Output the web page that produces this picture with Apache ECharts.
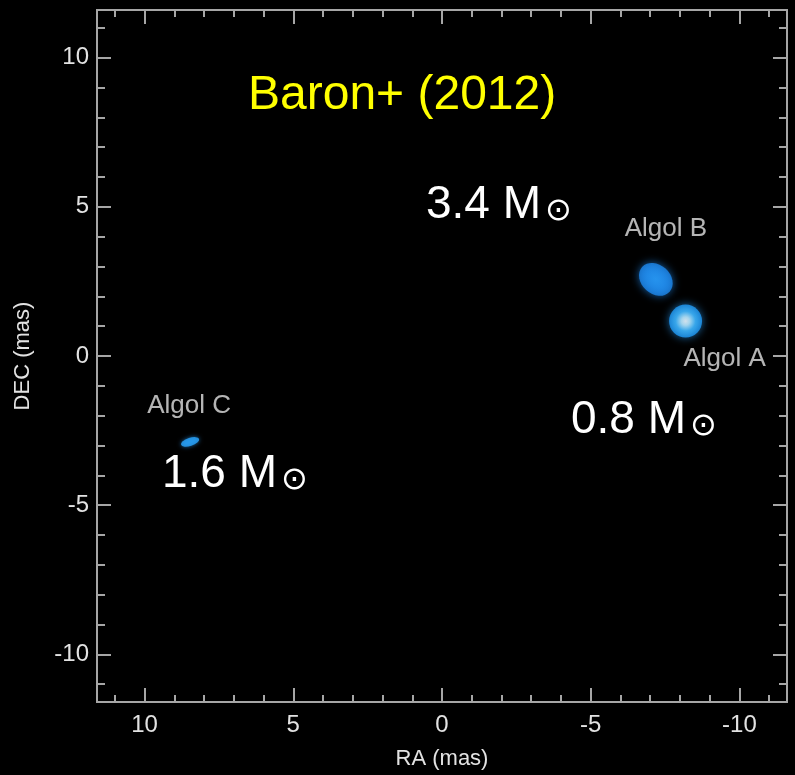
<!DOCTYPE html>
<html><head><meta charset="utf-8">
<script src="https://cdn.jsdelivr.net/npm/echarts@6/dist/echarts.min.js"></script>
<style>html,body{margin:0;padding:0;background:#000}#c{width:795px;height:775px}</style>
</head><body><div id="c"></div>
<script>
// ---- data ----
const starNames = ['Algol A', 'Algol B', 'Algol C'];
const starRA = [-8.19, -7.19, 8.47];
const starDEC = [1.17, 2.57, -2.88];
const massTexts = ['3.4 M', '0.8 M', '1.6 M'];
const titleText = 'Baron+ (2012)';
const majorTicks = [-10, -5, 0, 5, 10];
const minorTicks = [-11, -10, -9, -8, -7, -6, -5, -4, -3, -2, -1, 0, 1, 2, 3, 4, 5, 6, 7, 8, 9, 10, 11];
const tickLabels = [-10, -5, 0, 5, 10];
const axisMin = -11.6, axisMax = 11.6;

// ---- styles ----
const frameColor = '#a6a6a6';
const labelColor = '#e2e2e2';
const FONT = '"Liberation Sans", Arial, Helvetica, sans-serif';

const starStyles = [
  { symbol: 'circle', symbolSize: 33, symbolRotate: 0,
    itemStyle: { color: { type: 'radial', x: 0.5, y: 0.5, r: 0.5,
      colorStops: [{ offset: 0, color: '#ffffff' }, { offset: 0.25, color: '#c8f0ff' }, { offset: 0.6, color: '#40b8ff' }, { offset: 1, color: '#1e98f5' }] },
      shadowBlur: 8, shadowColor: 'rgba(40,160,255,0.8)' },
    labelOffset: [39, 38] },
  { symbol: 'circle', symbolSize: [37, 29], symbolRotate: -42,
    itemStyle: { color: { type: 'radial', x: 0.5, y: 0.5, r: 0.6,
      colorStops: [{ offset: 0, color: '#2aa0ff' }, { offset: 0.7, color: '#1f8cf2' }, { offset: 1, color: '#1a7fe0' }] },
      shadowBlur: 9, shadowColor: 'rgba(30,140,245,0.85)' },
    labelOffset: [10, -51] },
  { symbol: 'circle', symbolSize: [19, 8], symbolRotate: 18,
    itemStyle: { color: '#2aa6ff', shadowBlur: 4, shadowColor: 'rgba(40,160,255,0.8)' },
    labelOffset: [-1, -36] }
];

function mkAxis(dim, pos, ticks, len, withLabels) {
  const a = {
    type: 'value', position: pos, min: axisMin, max: axisMax,
    inverse: dim === 'x',
    splitLine: { show: false },
    axisLine: { show: true, onZero: false, lineStyle: { color: frameColor, width: 2 } },
    axisTick: { show: true, inside: true, length: len, customValues: ticks, lineStyle: { color: frameColor, width: 2 } },
    axisLabel: { show: withLabels, customValues: tickLabels, color: labelColor, fontSize: 24, fontFamily: FONT,
      margin: dim === 'x' ? 11 : 8 }
  };
  if (withLabels) {
    a.name = dim === 'x' ? 'RA (mas)' : 'DEC (mas)';
    a.nameLocation = 'middle';
    a.nameGap = dim === 'x' ? 46 : 63;
    a.nameTextStyle = { color: labelColor, fontSize: 22, fontFamily: FONT };
  }
  return a;
}

const massPos = [[426, 182], [571, 397], [162, 451]];

const chart = echarts.init(document.getElementById('c'), null, { renderer: 'canvas' });
chart.setOption({
  backgroundColor: '#000',
  animation: false,
  grid: { left: 97, top: 10, right: 8, bottom: 73, containLabel: false },
  xAxis: [
    mkAxis('x', 'bottom', minorTicks, 7, true),
    mkAxis('x', 'bottom', majorTicks, 14, false),
    mkAxis('x', 'top', minorTicks, 7, false),
    mkAxis('x', 'top', majorTicks, 14, false)
  ],
  yAxis: [
    mkAxis('y', 'left', minorTicks, 8, true),
    mkAxis('y', 'left', majorTicks, 14, false),
    mkAxis('y', 'right', minorTicks, 8, false),
    mkAxis('y', 'right', majorTicks, 14, false)
  ],
  series: [{
    type: 'scatter', xAxisIndex: 0, yAxisIndex: 0,
    data: starNames.map((n, i) => ({
      name: n, value: [starRA[i], starDEC[i]],
      symbol: starStyles[i].symbol, symbolSize: starStyles[i].symbolSize, symbolRotate: starStyles[i].symbolRotate,
      itemStyle: starStyles[i].itemStyle,
      label: { show: true, position: 'inside', formatter: n, offset: starStyles[i].labelOffset,
        color: labelColor, fontSize: 26, fontFamily: FONT }
    }))
  }],
  graphic: [
    { type: 'text', left: 248, top: 72, z: 10,
      style: { text: titleText, fill: '#ffff00', fontSize: 48, fontFamily: FONT } }
  ].concat(massTexts.map((t, i) => ({
    type: 'text', left: massPos[i][0], top: massPos[i][1], z: 10,
    style: { text: '{a|' + t + '}{b|\u2299}',
      rich: { a: { fill: '#ffffff', fontSize: 46, fontFamily: FONT },
              b: { fill: '#ffffff', fontSize: 32, fontFamily: '"DejaVu Sans", sans-serif', verticalAlign: 'bottom', padding: [0, 0, 0, 4] } } }
  })))
});
</script></body></html>
